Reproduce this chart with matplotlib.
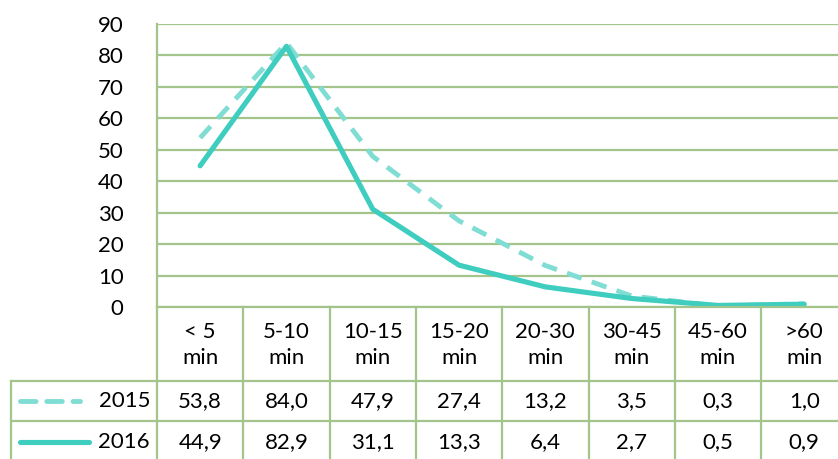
import matplotlib.pyplot as plt
from matplotlib.lines import Line2D

plt.rcParams['font.family'] = ['Lato', 'DejaVu Sans']

categories = ['< 5\nmin', '5-10\nmin', '10-15\nmin', '15-20\nmin',
              '20-30\nmin', '30-45\nmin', '45-60\nmin', '>60\nmin']
v2015 = [53.8, 84.0, 47.9, 27.4, 13.2, 3.5, 0.3, 1.0]
v2016 = [44.9, 82.9, 31.1, 13.3, 6.4, 2.7, 0.5, 0.9]
yticks = [0, 10, 20, 30, 40, 50, 60, 70, 80, 90]

grid_c = '#a3c58b'
c2015 = '#80ddd3'
c2016 = '#3ecdbf'
fs = 16

W, H = 838, 459
fig = plt.figure(figsize=(W / 100, H / 100), dpi=100)

# layout in pixels
left, top, bottom = 157, 24, 307
colw = 86.3
n = len(categories)
right = left + n * colw  # runs past the image edge, as in the reference

ax = fig.add_axes([left / W, 1 - bottom / H, (right - left) / W, (bottom - top) / H])
x = list(range(n))
ax.plot(x, v2015, color=c2015, lw=3.5, dashes=(3.2, 2.2), solid_capstyle='butt', zorder=3)
ax.plot(x, v2016, color=c2016, lw=3.7, solid_capstyle='round', zorder=4)
ax.set_xlim(-0.5, n - 0.5)
ax.set_ylim(0, 90)
ax.set_yticks(yticks)
ax.set_xticks([])
ax.tick_params(axis='y', length=0, pad=24, labelsize=fs)
ax.yaxis.grid(True, color=grid_c, lw=1.6)
ax.set_axisbelow(True)
for s in ['top', 'right', 'bottom']:
    ax.spines[s].set_visible(False)
ax.spines['left'].set_color(grid_c)
ax.spines['left'].set_linewidth(1.6)

# data table drawn in figure pixel space
tab = fig.add_axes([0, 0, 1, 1], facecolor='none')
tab.set_xlim(0, W)
tab.set_ylim(H, 0)
tab.axis('off')

row1, row2, row_end = 381, 421, 470
leg_left = 11
lk = dict(color=grid_c, lw=1.6)
tab.plot([left, right], [bottom, bottom], **lk)
tab.plot([leg_left, right], [row1, row1], **lk)
tab.plot([leg_left, right], [row2, row2], **lk)
tab.plot([leg_left, leg_left], [row1, row_end], **lk)
for i in range(n + 1):
    xb = left + i * colw
    tab.plot([xb, xb], [bottom, row_end], **lk)

for i, cat in enumerate(categories):
    cx = left + (i + 0.5) * colw
    tab.text(cx, (bottom + row1) / 2 + 1, cat, ha='center', va='center',
             fontsize=fs, linespacing=1.4)
    tab.text(cx, (row1 + row2) / 2, f'{v2015[i]:.1f}'.replace('.', ','),
             ha='center', va='center', fontsize=fs)
    tab.text(cx, (row2 + 459) / 2 + 2, f'{v2016[i]:.1f}'.replace('.', ','),
             ha='center', va='center', fontsize=fs)

y1 = (row1 + row2) / 2
y2 = (row2 + 459) / 2 + 2
tab.add_line(Line2D([20, 80], [y1, y1], color=c2015, lw=3.5, dashes=(3.2, 2.2),
                    solid_capstyle='round', dash_capstyle='round'))
tab.add_line(Line2D([20, 89], [y2, y2], color=c2016, lw=3.7, solid_capstyle='round'))
tab.text(left - 7, y1, '2015', ha='right', va='center', fontsize=fs)
tab.text(left - 7, y2, '2016', ha='right', va='center', fontsize=fs)

fig.savefig('out.png', dpi=100)
